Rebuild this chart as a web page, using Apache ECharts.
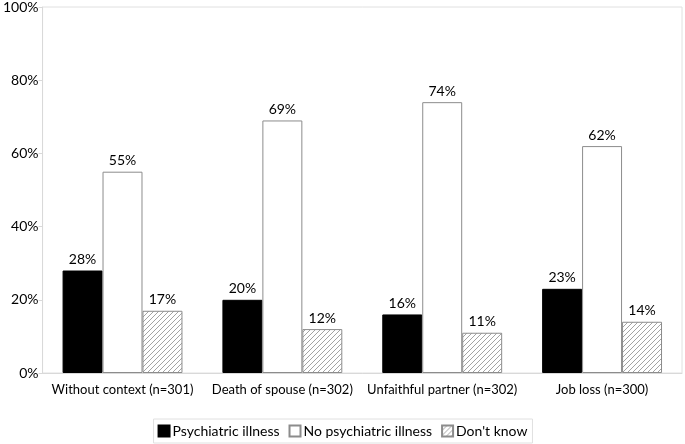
<!DOCTYPE html>
<html>
<head>
<meta charset="utf-8">
<script src="https://cdn.jsdelivr.net/npm/echarts@6/dist/echarts.min.js"></script>
<style>
  html, body { margin: 0; padding: 0; background: #fff; }
  #main { width: 685px; height: 444px; }
</style>
</head>
<body>
<div id="main"></div>
<script>
var categories = ['Without context (n=301)', 'Death of spouse (n=302)', 'Unfaithful partner (n=302)', 'Job loss (n=300)'];
var psychiatric = [28, 20, 16, 23];
var noPsychiatric = [55, 69, 74, 62];
var dontKnow = [17, 12, 11, 14];
var yTicks = [0, 20, 40, 60, 80, 100];

// hatch fill for "Don't know"
function makeHatch() {
  var c = document.createElement('canvas');
  c.width = 5; c.height = 5;
  var ctx = c.getContext('2d');
  ctx.fillStyle = '#fff';
  ctx.fillRect(0, 0, 5, 5);
  ctx.strokeStyle = '#8c8c8c';
  ctx.lineWidth = 0.8;
  ctx.beginPath();
  ctx.moveTo(0, 5); ctx.lineTo(5, 0);
  ctx.moveTo(-2.5, 2.5); ctx.lineTo(2.5, -2.5);
  ctx.moveTo(2.5, 7.5); ctx.lineTo(7.5, 2.5);
  ctx.stroke();
  return c;
}
var hatch = { image: makeHatch(), repeat: 'repeat' };

var font = 'Lato';
var chart = echarts.init(document.getElementById('main'));

var lbl = {
  show: true,
  position: 'top',
  formatter: '{c}%',
  color: '#000',
  fontFamily: font,
  fontSize: 14,
  distance: 4
};

chart.setOption({
  animation: false,
  textStyle: { fontFamily: font },
  grid: {
    left: 42, right: 3, top: 6, bottom: 71,
    show: true, borderColor: '#e0e0e0', borderWidth: 1
  },
  legend: {
    bottom: 1,
    left: 'center',
    icon: 'rect',
    itemWidth: 11,
    itemHeight: 11,
    itemGap: 9,
    borderColor: '#e0e0e0',
    borderWidth: 1,
    padding: [5, 5, 5, 4],
    textStyle: { fontFamily: font, fontSize: 14, color: '#000', padding: [0, 0, 0, -2] },
    data: ['Psychiatric illness', 'No psychiatric illness', "Don't know"]
  },
  xAxis: {
    type: 'category',
    data: categories,
    axisLine: { lineStyle: { color: '#d9d9d9' } },
    axisTick: { show: false },
    axisLabel: { interval: 0, color: '#000', fontFamily: font, fontSize: 13, margin: 10 }
  },
  yAxis: {
    type: 'value',
    min: 0, max: 100, interval: 20,
    axisLine: { show: true, lineStyle: { color: '#d9d9d9' } },
    axisTick: { show: true, length: 4, lineStyle: { color: '#d9d9d9' } },
    splitLine: { show: false },
    axisLabel: {
      color: '#000', fontFamily: font, fontSize: 14, margin: 4,
      formatter: function (v) { return yTicks.indexOf(v) >= 0 ? v + '%' : ''; }
    }
  },
  series: [
    {
      name: 'Psychiatric illness', type: 'bar', data: psychiatric,
      barGap: '0%', barCategoryGap: '25%',
      itemStyle: { color: '#000', borderColor: '#000', borderWidth: 1 },
      label: lbl
    },
    {
      name: 'No psychiatric illness', type: 'bar', data: noPsychiatric,
      itemStyle: { color: '#fff', borderColor: '#8c8c8c', borderWidth: 1 },
      label: lbl
    },
    {
      name: "Don't know", type: 'bar', data: dontKnow,
      itemStyle: { color: hatch, borderColor: '#8c8c8c', borderWidth: 1 },
      label: lbl
    }
  ]
});
</script>
</body>
</html>
